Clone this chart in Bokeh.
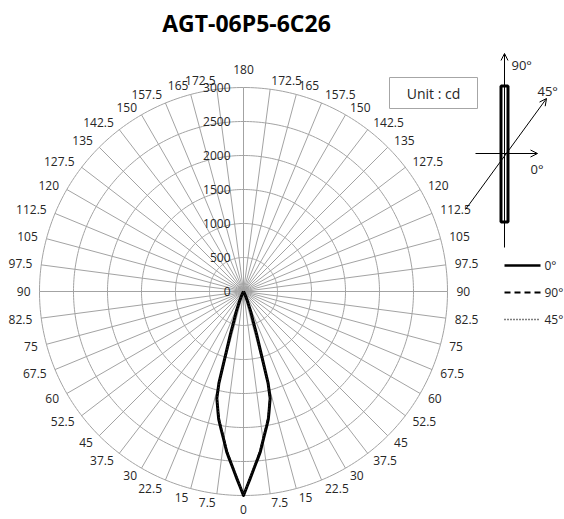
import numpy as np
from bokeh.plotting import figure
from bokeh.models import Range1d, Arrow, OpenHead
from bokeh.core.properties import value
from bokeh.embed import file_html
from bokeh.resources import INLINE

# ---------------- data ----------------
title = "AGT-06P5-6C26"
unit_text = "Unit : cd"
radial_ticks = [0, 500, 1000, 1500, 2000, 2500, 3000]
r_max = 3000
# angle tick labels, right side from nadir (0) to zenith (180)
angle_ticks = [0, 7.5, 15, 22.5, 30, 37.5, 45, 52.5, 60, 67.5, 75, 82.5, 90,
               97.5, 105, 112.5, 120, 127.5, 135, 142.5, 150, 157.5, 165, 172.5, 180]

gamma = [0, 1, 2, 3, 4, 5, 6, 7, 8, 9, 10, 11, 12, 13, 14, 15, 16, 17, 18, 19, 20,
         22, 24, 26, 28, 30, 35, 40, 50, 60, 90, 120, 150, 180]
I_c0 = [3000, 2872, 2757, 2647, 2547, 2456, 2368, 2259, 2160, 2071, 1990, 1912, 1807, 1707,
        1620, 1400, 900, 660, 455, 370, 300, 168, 90, 45, 22, 8, 0, 0, 0, 0, 0, 0, 0, 0]
I_c90 = [3000, 2870, 2750, 2640, 2535, 2440, 2350, 2245, 2145, 2055, 1975, 1895, 1795, 1700,
         1610, 1390, 890, 650, 450, 365, 295, 165, 88, 44, 21, 8, 0, 0, 0, 0, 0, 0, 0, 0]
I_c45 = [2990, 2860, 2740, 2625, 2520, 2425, 2335, 2230, 2130, 2040, 1960, 1880, 1780, 1690,
         1600, 1380, 880, 640, 445, 360, 290, 160, 85, 42, 20, 7, 0, 0, 0, 0, 0, 0, 0, 0]
legend_names = ["0°", "90°", "45°"]

# ---------------- layout helpers (screen px -> data) ----------------
CX, CY, R_PX = 243.0, 291.0, 204.0
s = r_max / R_PX

def X(px):
    return (px - CX) * s

def Y(py):
    return (CY - py) * s

W, H = 564, 519
p = figure(width=W, height=H, x_range=Range1d(X(0), X(W)), y_range=Range1d(Y(H), Y(0)),
           x_axis_type=None, y_axis_type=None, toolbar_location=None, output_backend="svg",
           min_border=0, outline_line_color=None)
p.grid.visible = False

FONT = value("Open Sans")
GRID = "#a3a3a3"
TXT = "#262626"

# rings
t = np.linspace(0, 2 * np.pi, 361)
p.multi_line(xs=[list(r * np.cos(t)) for r in radial_ticks[1:]],
             ys=[list(r * np.sin(t)) for r in radial_ticks[1:]],
             line_color=GRID, line_width=1)

# spokes: 48 at 7.5 deg
n_sp = 2 * (len(angle_ticks) - 1)
step = 360.0 / n_sp
ang = np.radians(np.arange(n_sp) * step)
p.multi_line(xs=[[0, r_max * np.sin(a)] for a in ang],
             ys=[[0, -r_max * np.cos(a)] for a in ang],
             line_color=GRID, line_width=1)

# angle labels
def fmt(v):
    return ("%g" % v)

R_LAB = 213 * s
R_TOP = 222 * s
R_BOT = 218 * s
lx, ly, lt = [], [], []
rx, ry, rt = [], [], []
cx_, cy_, ct = [], [], []
for k in range(n_sp):
    a = np.radians(k * step)
    v = angle_ticks[k] if k <= n_sp // 2 else angle_ticks[n_sp - k]
    if k == 0 or k == n_sp // 2:
        rr = R_BOT if k == 0 else R_TOP
        cx_.append(rr * np.sin(a)); cy_.append(-rr * np.cos(a)); ct.append(fmt(v))
    elif k < n_sp // 2:
        rx.append(R_LAB * np.sin(a)); ry.append(-R_LAB * np.cos(a)); rt.append(fmt(v))
    else:
        lx.append(R_LAB * np.sin(a)); ly.append(-R_LAB * np.cos(a)); lt.append(fmt(v))

common = dict(text_font=FONT, text_font_size="12px", text_color=TXT, text_baseline="middle")
p.text(x=rx, y=ry, text=rt, text_align="left", **common)
p.text(x=lx, y=ly, text=lt, text_align="right", **common)
p.text(x=cx_, y=cy_, text=ct, text_align="center", **common)

# radial labels
p.text(x=[X(230)] * len(radial_ticks), y=radial_ticks, text=[str(v) for v in radial_ticks],
       text_align="right", **common)

# intensity curves
def closed(I):
    g = np.radians(gamma)
    I = np.array(I, dtype=float)
    xr, yr = I * np.sin(g), -I * np.cos(g)
    xl, yl = -xr[::-1], yr[::-1]
    return list(np.concatenate([xl, xr[1:]])), list(np.concatenate([yl, yr[1:]]))

x0, y0 = closed(I_c0)
x90, y90 = closed(I_c90)
x45, y45 = closed(I_c45)
p.line(x0, y0, line_color="black", line_width=3, line_join="round")
p.line(x90, y90, line_color="black", line_width=1.6, line_dash="6 3")
p.line(x45, y45, line_color="#333333", line_width=1, line_dash="1 2")

# title
p.text(x=[X(246)], y=[Y(22)], text=[title], text_font=FONT, text_font_size="23px",
       text_font_style="bold", text_color="black", text_align="center", text_baseline="middle")

# unit box
p.quad(left=[X(389)], right=[X(477)], top=[Y(77)], bottom=[Y(108)], fill_color="white",
       line_color="#a6a6a6", line_width=1)
p.text(x=[X(433)], y=[Y(93)], text=[unit_text], text_font=FONT, text_font_size="14px",
       text_color=TXT, text_align="center", text_baseline="middle")

# orientation diagram
p.add_layout(Arrow(end=OpenHead(size=7, line_width=1), x_start=X(504), y_start=Y(247),
                   x_end=X(504), y_end=Y(53), line_width=1, line_color="black"))
p.quad(left=[X(500.5)], right=[X(507.5)], top=[Y(85.5)], bottom=[Y(221.5)], fill_color="white",
       line_color="black", line_width=3)
p.add_layout(Arrow(end=OpenHead(size=7, line_width=1), x_start=X(475), y_start=Y(153),
                   x_end=X(537), y_end=Y(153), line_width=1, line_color="black"))
p.add_layout(Arrow(end=OpenHead(size=7, line_width=1), x_start=X(465), y_start=Y(209),
                   x_end=X(546), y_end=Y(98), line_width=1, line_color="black"))
dcommon = dict(text_font=FONT, text_font_size="13px", text_color=TXT, text_align="left",
               text_baseline="middle")
p.text(x=[X(511)], y=[Y(64)], text=["90°"], **dcommon)
p.text(x=[X(537)], y=[Y(90)], text=["45°"], **dcommon)
p.text(x=[X(530)], y=[Y(168)], text=["0°"], **dcommon)

# legend
leg_y = [265, 292, 319]
styles = [dict(line_width=2.4), dict(line_width=1.8, line_dash="6 4"),
          dict(line_width=1.4, line_dash="1 2")]
lcommon = dict(text_font=FONT, text_font_size="12px", text_color=TXT, text_align="left",
               text_baseline="middle")
for yy, st, nm in zip(leg_y, styles, legend_names):
    p.line([X(504), X(540)], [Y(yy), Y(yy)], line_color="black", **st)
    p.text(x=[X(544)], y=[Y(yy)], text=[nm], **lcommon)

open("out.html", "w").write(file_html(p, INLINE))
